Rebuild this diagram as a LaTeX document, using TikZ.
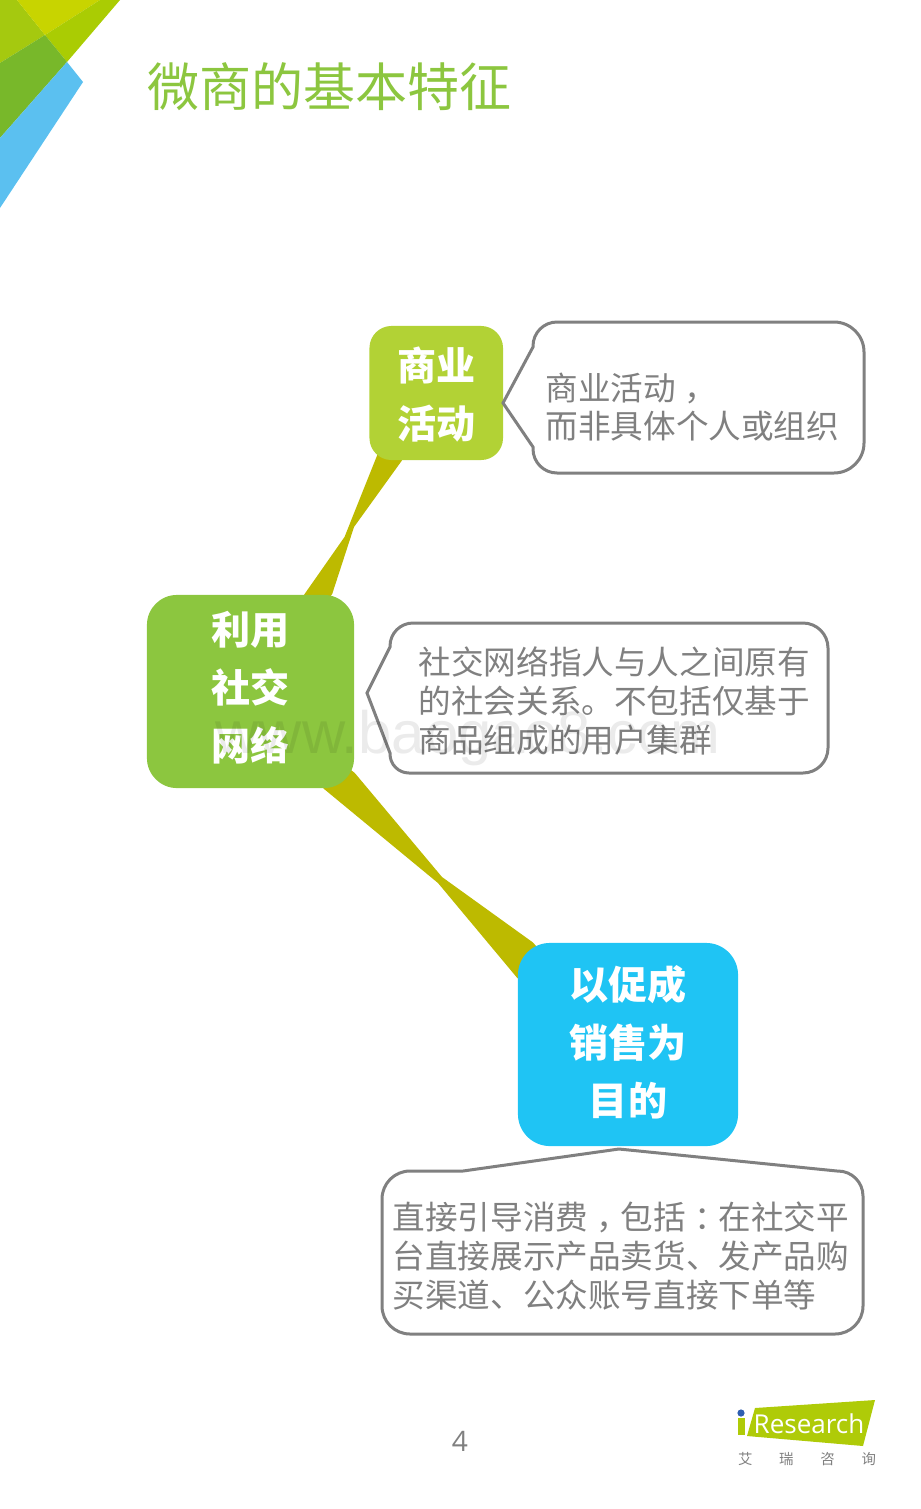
\documentclass[tikz,border=0pt]{standalone}
\usepackage{fontspec}
\usetikzlibrary{backgrounds,calc}
\setmainfont{Liberation Sans}
\newfontfamily\cjk{Noto Sans CJK SC}
\newfontfamily\logofont{Open Sans}
\definecolor{titlegreen}{HTML}{8CC63F}
\definecolor{bizgreen}{HTML}{B2D235}
\definecolor{socialgreen}{HTML}{8CC63F}
\definecolor{salesblue}{HTML}{1FC4F4}
\definecolor{stalkolive}{HTML}{BDBA00}
\definecolor{notegray}{HTML}{808080}
\definecolor{logogreen}{HTML}{AFCB08}
\newcommand{\midpunct}[1]{\kern.25em#1\kern-.25em}
\tikzset{
  topicbox/.style={inner sep=0pt,align=center,text=white,font=\cjk\bfseries\fontsize{11.1}{16.5}\selectfont},
  notetext/.style={anchor=west,inner sep=0pt,align=left,text=notegray,font=\cjk\fontsize{9.27}{11}\selectfont},
  noteline/.style={draw=notegray,line width=.03cm,fill=white},
  stalk/.style={fill=stalkolive}
}
\begin{document}
\begin{tikzpicture}[x=.01cm,y=-.01cm]
  \useasboundingbox (0,0) rectangle (920,1509);
  \fill[fill={rgb,255:red,165;green,201;blue,15}] (0,0) -- (17,0) -- (45,35) -- (0,63) -- cycle;
  \fill[fill={rgb,255:red,200;green,212;blue,0}] (17,0) -- (100,0) -- (45,35) -- cycle;
  \fill[fill={rgb,255:red,170;green,204;blue,3}] (100,0) -- (120,0) -- (67,62) -- (45,35) -- cycle;
  \fill[fill={rgb,255:red,120;green,184;blue,42}] (0,63) -- (45,35) -- (67,62) -- (0,138) -- cycle;
  \fill[fill={rgb,255:red,91;green,192;blue,240}] (67,62) -- (83,82) -- (0,208) -- (0,138) -- cycle;
  \node[anchor=west,inner sep=0pt,text=titlegreen,font=\cjk\fontsize{14.8}{18}\selectfont] (title) at (147,87) {微商的基本特征};

  \node[topicbox,fill=bizgreen,rounded corners=.22cm,minimum width=1.335cm,minimum height=1.34cm,text depth=.16pt] (biz) at (436.25,393) {商业\\活动};
  \node[topicbox,fill=socialgreen,rounded corners=.3cm,minimum width=2.07cm,minimum height=1.93cm,text depth=3.3pt] (social) at (250.5,691.5) {利用\\社交\\网络};
  \node[topicbox,fill=salesblue,rounded corners=.32cm,minimum width=2.2cm,minimum height=2.03cm,text depth=2.44pt] (sales) at (628,1044.5) {以促成\\销售为\\目的};

  \coordinate (neckal) at (344.5,537);
  \coordinate (neckar) at (354,527);
  \coordinate (neckbl) at (438,883);
  \coordinate (neckbr) at (442,877);
  \begin{scope}[on background layer]
    \fill[stalk] (biz.center) -- ($(biz.center)+(-55,52)$) -- (neckal) -- (social.61) -- (social.center) -- (social.50.7) -- (neckar) -- (biz.243) -- cycle;
    \fill[stalk] (social.center) -- (social.322.1) -- (neckbr) -- (sales.133) -- (sales.center) -- (sales.149.6) -- (neckbl) -- (social.307.7) -- cycle;
  \end{scope}

  \draw[noteline] (503,403) -- (533,447) [rounded corners=.24cm] -- (533,473) [rounded corners=.3cm] -- (864,473) -- (864,322) [rounded corners=.24cm] -- (533,322) [sharp corners] -- (533,347) -- cycle;
  \node[notetext] (bizlabel) at (545,407) {商业活动\midpunct{，}\\而非具体个人或组织};
  \draw[noteline] (367,693) -- (390,753) [rounded corners=.19cm] -- (390,773) [rounded corners=.25cm] -- (828,773) -- (828,623) [rounded corners=.23cm] -- (390,623) [sharp corners] -- (390,647) -- cycle;
  \node[notetext] (sociallabel) at (418,701) {社交网络指人与人之间原有\\的社会关系。不包括仅基于\\商品组成的用户集群};
  \draw[noteline] (619,1149) -- (837,1171) [rounded corners=.25cm] -- (863,1171) [rounded corners=.28cm] -- (863,1334) -- (382,1334) -- (382,1171) [sharp corners] -- (463,1171) -- cycle;
  \node[notetext] (saleslabel) at (392,1256) {直接引导消费\midpunct{，}包括\midpunct{：}在社交平\\台直接展示产品卖货、发产品购\\买渠道、公众账号直接下单等};

  \node[anchor=base west,inner sep=0pt,text=black,text opacity=.08,font=\fontsize{17}{20}\selectfont] (mark) at (215,753) {www.baogao8.com};
  \node[inner sep=0pt,text=notegray,font=\logofont\fontsize{8}{10}\selectfont] (page) at (460,1441) {4};

  \fill[logogreen] (755,1408) -- (875,1400) -- (863,1446) -- (747,1436) -- cycle;
  \fill[logogreen] (737.5,1418) rectangle (745,1435);
  \fill[fill={rgb,255:red,47;green,95;blue,176}] (741,1413) circle (3.6);
  \node[anchor=west,inner sep=0pt,text=white,font=\logofont\fontsize{7.4}{9}\selectfont] (logo) at (753,1424) {Research};
  \node[inner sep=0pt,text=notegray,font=\cjk\fontsize{4.1}{5}\selectfont] (logocn) at (807,1459) {艾\hspace{7.6pt}瑞\hspace{7.6pt}咨\hspace{7.6pt}询};
\end{tikzpicture}
\end{document}
